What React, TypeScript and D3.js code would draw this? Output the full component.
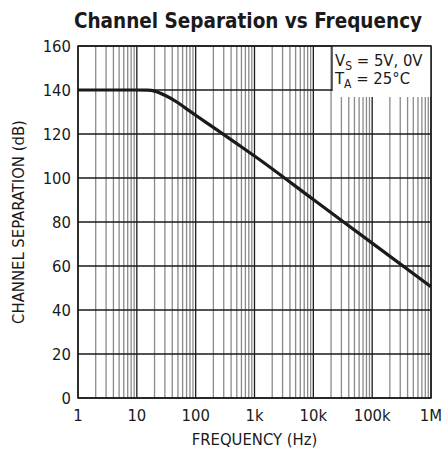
import { useEffect, useRef } from "react"
import * as d3 from "d3"

const freqHz = [1, 10, 15, 20, 30, 50, 70, 100, 200, 500, 1e3, 1e4, 1e5, 1e6]
const separationDb = [140, 140, 139.9, 139.5, 137.6, 134.2, 131.4, 128.5, 123, 115.6, 110, 90.2, 70.4, 50.6]

const xTicks = [1, 10, 100, 1e3, 1e4, 1e5, 1e6]
const xTickLabels = ["1", "10", "100", "1k", "10k", "100k", "1M"]
const yTicks = [0, 20, 40, 60, 80, 100, 120, 140, 160]

const legendLines = [
  { main: "V", sub: "S", rest: " = 5V, 0V" },
  { main: "T", sub: "A", rest: " = 25°C" },
]

const FONT = "'Liberation Sans Narrow', 'DejaVu Sans Condensed', Arial, sans-serif"

export default function App() {
  const ref = useRef<SVGSVGElement | null>(null)

  useEffect(() => {
    const svg = d3.select(ref.current)
    svg.selectAll("*").remove()

    const width = 442
    const height = 460
    const m = { left: 78, right: 11, top: 46, bottom: 62 }
    const x0 = m.left, x1 = width - m.right
    const y0 = height - m.bottom, y1 = m.top

    svg.attr("width", width).attr("height", height)
    svg.append("rect").attr("width", width).attr("height", height).attr("fill", "#fff")

    const x = d3.scaleLog().domain([1, 1e6]).range([x0, x1])
    const y = d3.scaleLinear().domain([0, 160]).range([y0, y1])

    const g = svg.append("g")

    // minor vertical grid
    const minor: number[] = []
    for (let d = 1; d < 1e6; d *= 10) for (let k = 2; k <= 9; k++) minor.push(d * k)
    g.selectAll("line.minor").data(minor).enter().append("line")
      .attr("x1", d => x(d)).attr("x2", d => x(d))
      .attr("y1", y0).attr("y2", y1)
      .attr("stroke", "#8a8a8a").attr("stroke-width", 1.3)

    // major grid
    g.selectAll("line.vmaj").data(xTicks).enter().append("line")
      .attr("x1", d => x(d)).attr("x2", d => x(d))
      .attr("y1", y0).attr("y2", y1)
      .attr("stroke", "#1a1a1a").attr("stroke-width", 1.3)
    g.selectAll("line.hmaj").data(yTicks).enter().append("line")
      .attr("x1", x0).attr("x2", x1)
      .attr("y1", d => y(d)).attr("y2", d => y(d))
      .attr("stroke", "#1a1a1a").attr("stroke-width", 1.3)

    // legend box
    const bx = 332
    svg.append("rect").attr("x", bx).attr("y", y1).attr("width", x1 - bx).attr("height", 51).attr("fill", "#fff")
    svg.append("line").attr("x1", bx).attr("x2", bx).attr("y1", y1).attr("y2", y1 + 45)
      .attr("stroke", "#1a1a1a").attr("stroke-width", 1.3)
    legendLines.forEach((l, i) => {
      const t = svg.append("text").attr("x", bx + 3).attr("y", 66 + i * 18)
        .attr("font-family", FONT).attr("font-size", 16.5).attr("fill", "#1a1a1a")
      t.append("tspan").text(l.main)
      t.append("tspan").attr("font-size", 12).attr("dy", 4).text(l.sub)
      t.append("tspan").attr("dy", -4).text(l.rest)
    })

    // border
    svg.append("rect").attr("x", x0).attr("y", y1).attr("width", x1 - x0).attr("height", y0 - y1)
      .attr("fill", "none").attr("stroke", "#1a1a1a").attr("stroke-width", 1.5)

    // curve
    const line = d3.line<number>()
      .x((_, i) => x(freqHz[i]))
      .y(d => y(d))
      .curve(d3.curveMonotoneX)
    svg.append("path").datum(separationDb).attr("d", line)
      .attr("fill", "none").attr("stroke", "#1a1a1a").attr("stroke-width", 3.2)
      .attr("stroke-linejoin", "round")

    // tick labels
    svg.selectAll("text.xt").data(xTicks).enter().append("text")
      .attr("x", d => x(d)).attr("y", y0 + 23)
      .attr("text-anchor", "middle").attr("font-family", FONT).attr("font-size", 16.5)
      .attr("fill", "#1a1a1a").text((_, i) => xTickLabels[i])
    svg.selectAll("text.yt").data(yTicks).enter().append("text")
      .attr("x", x0 - 7).attr("y", d => y(d) + 6)
      .attr("text-anchor", "end").attr("font-family", FONT).attr("font-size", 16.5)
      .attr("fill", "#1a1a1a").text(d => String(d))

    // axis titles
    svg.append("text").attr("x", (x0 + x1) / 2).attr("y", 445)
      .attr("text-anchor", "middle").attr("font-family", FONT).attr("font-size", 16.5)
      .attr("fill", "#1a1a1a").text("FREQUENCY (Hz)")
    svg.append("text").attr("transform", `translate(24,${(y0 + y1) / 2}) rotate(-90)`)
      .attr("text-anchor", "middle").attr("font-family", FONT).attr("font-size", 16.5)
      .attr("fill", "#1a1a1a").text("CHANNEL SEPARATION (dB)")

    svg.append("text").attr("x", 248).attr("y", 28)
      .attr("text-anchor", "middle").attr("font-family", FONT).attr("font-size", 20.5)
      .attr("font-weight", "bold").attr("fill", "#1a1a1a").text("Channel Separation vs Frequency")
  }, [])

  return <svg ref={ref} style={{ position: "absolute", left: 0, top: 0, display: "block" }} />
}
